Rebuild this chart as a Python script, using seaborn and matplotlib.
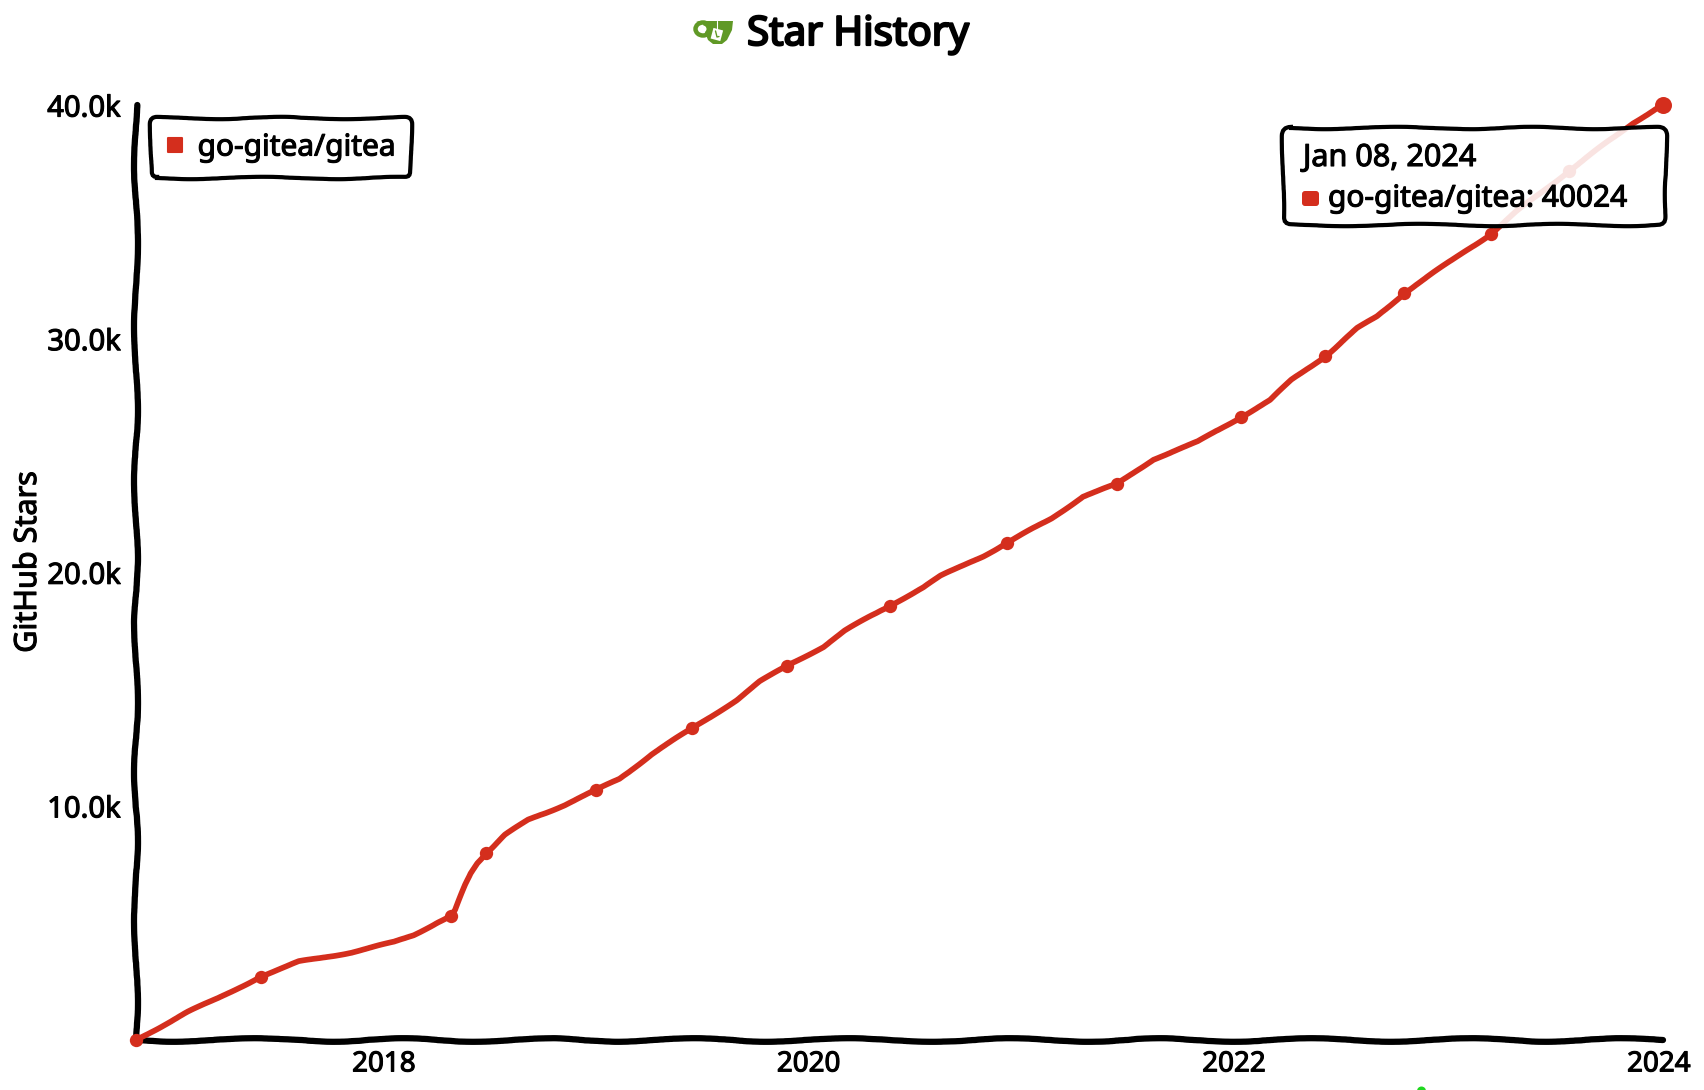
import matplotlib
matplotlib.use("Agg")
import matplotlib.pyplot as plt
import matplotlib.dates as mdates
import matplotlib.patheffects as pe
import seaborn as sns
import pandas as pd
from matplotlib.lines import Line2D
from matplotlib.markers import MarkerStyle
from matplotlib.patches import FancyBboxPatch, Polygon, Circle, Ellipse, Rectangle
from matplotlib.transforms import Affine2D
from matplotlib.ticker import FixedLocator, FuncFormatter

REPO = "go-gitea/gitea"
TITLE = "Star History"
YLABEL = "GitHub Stars"
TOOLTIP_DATE = "Jan 08, 2024"
TOOLTIP_VALUE = "go-gitea/gitea: 40024"
RED = "#d42e1d"
GREEN = "#609926"

dates = ["2016-11-01", "2017-01-30", "2017-03-22", "2017-06-03", "2017-08-08", "2017-11-07",
         "2018-01-19", "2018-02-21", "2018-04-02", "2018-04-27", "2018-05-04", "2018-05-12",
         "2018-05-21", "2018-05-30", "2018-06-10", "2018-06-25", "2018-07-28", "2018-09-06",
         "2018-11-07", "2019-01-01", "2019-02-10",
         "2019-04-06", "2019-06-15", "2019-08-30", "2019-10-09", "2019-11-25", "2020-01-26",
         "2020-03-03", "2020-05-19", "2020-07-16", "2020-08-15", "2020-10-27", "2020-12-06",
         "2021-02-21", "2021-04-16", "2021-06-14", "2021-08-15", "2021-10-31", "2022-01-12",
         "2022-03-04", "2022-04-10", "2022-06-07", "2022-08-01", "2022-09-03", "2022-10-20",
         "2022-12-10", "2023-03-18", "2023-05-01", "2023-07-31", "2023-11-17", "2024-01-08"]
stars = [0, 1211, 1785, 2710, 3352, 3754,
         4195, 4495, 5021, 5308, 5565, 6066,
         6635, 7136, 7577, 7992, 8776, 9418,
         10060, 10702, 11173,
         12243, 13343, 14555, 15338, 16023, 16836,
         17521, 18592, 19379, 19863, 20719, 21262,
         22333, 23258, 23801, 24859, 25612, 26656,
         27397, 28253, 29281, 30466, 30963, 31964,
         32847, 34503, 35458, 37213, 39255, 40024]
marked_dates = ["2016-11-01", "2017-06-03", "2018-04-27", "2018-06-25", "2019-01-01",
                "2019-06-15", "2019-11-25", "2020-05-19", "2020-12-06", "2021-06-14",
                "2022-01-12", "2022-06-07", "2022-10-20", "2023-03-18", "2023-07-31"]
last_date = "2024-01-08"
y_ticks = [10000, 20000, 30000, 40000]
y_top = 40024

W, H = 1704, 1090
sns.set_theme(style="white")
plt.rcParams["font.family"] = ["Noto Sans", "DejaVu Sans"]


def thick(width=0.8):
    """Heavier strokes, closer to the hand-drawn lettering."""
    return [pe.Stroke(linewidth=width, foreground="black"), pe.Normal()]


df = pd.DataFrame({"date": pd.to_datetime(dates), "stars": stars})
df_marked = df[df["date"].isin(pd.to_datetime(marked_dates))]
df_last = df[df["date"] == pd.Timestamp(last_date)]

fig = plt.figure(figsize=(W / 100, H / 100), dpi=100, facecolor="white")
ax = fig.add_axes([136 / W, 1 - 1040 / H, (1663 - 136) / W, (1040 - 105) / H])
ax.set_facecolor("white")

sns.lineplot(data=df, x="date", y="stars", ax=ax, color=RED, linewidth=4.1,
             estimator=None, errorbar=None, zorder=4, clip_on=False)
ax.lines[0].set_sketch_params(scale=0.6, length=120, randomness=3)
ax.lines[0].set_solid_capstyle("round")
ax.lines[0].set_solid_joinstyle("round")
sns.scatterplot(data=df_marked, x="date", y="stars", ax=ax, color=RED, s=92,
                linewidth=0, zorder=4, clip_on=False)
sns.scatterplot(data=df_last, x="date", y="stars", ax=ax, color=RED, s=150,
                linewidth=0, zorder=4, clip_on=False)

ax.set_xlim(pd.Timestamp(dates[0]), pd.Timestamp(dates[-1]))
ax.set_ylim(0, y_top)
ax.xaxis.set_major_locator(mdates.YearLocator(2))
ax.xaxis.set_major_formatter(mdates.DateFormatter("%Y"))
ax.yaxis.set_major_locator(FixedLocator(y_ticks))
ax.yaxis.set_major_formatter(FuncFormatter(lambda v, _: f"{v / 1000:.1f}k"))
ax.tick_params(axis="x", length=0, pad=7.5, labelsize=20, labelcolor="black")
ax.tick_params(axis="y", length=0, pad=11, labelsize=21, labelcolor="black")
for lab in ax.get_xticklabels() + ax.get_yticklabels():
    lab.set_path_effects(thick())
ax.set_xlabel("")
ax.set_ylabel(YLABEL, fontsize=22, color="black", path_effects=thick())
ax.yaxis.set_label_coords((43 - 136) / 1527, (1040 - 562) / 935)

sns.despine(ax=ax)
for side, s_scale, s_len in (("left", 2.0, 190), ("bottom", 1.8, 190)):
    sp = ax.spines[side]
    sp.set_color("black")
    sp.set_linewidth(4.5)
    sp.set_capstyle("round")
    sp.set_sketch_params(scale=s_scale, length=s_len, randomness=3)

handle = Line2D([], [], linestyle="none", color=RED, ms=10, mew=1.5,
                marker=MarkerStyle("s", joinstyle="round"), label=REPO)
leg = ax.legend(handles=[handle], loc="upper left", bbox_to_anchor=(151, H - 118),
                bbox_transform=Affine2D(), borderaxespad=0, fontsize=21.5, frameon=True,
                fancybox=True, framealpha=1, edgecolor="black", borderpad=0.52,
                handlelength=0.57, handletextpad=0.47, labelspacing=0)
frame = leg.get_frame()
frame.set_linewidth(3.0)
frame.set_sketch_params(scale=1.2, length=170, randomness=3)
leg.set_zorder(6)
for t in leg.get_texts():
    t.set_path_effects(thick())
    t.set_color("black")

# pixel coordinates, origin top-left
px = Affine2D().scale(1, -1).translate(0, H)

tip = FancyBboxPatch((1283, 128), 383, 97, boxstyle="round,pad=0,rounding_size=8",
                     facecolor=(1, 1, 1, 0.87), edgecolor="black", linewidth=3.0, transform=px, zorder=5)
tip.set_sketch_params(scale=1.2, length=170, randomness=3)
fig.add_artist(tip)
fig.text(1303 / W, 1 - 158 / H, TOOLTIP_DATE, fontsize=22, color="black",
         va="center", ha="left", zorder=6, path_effects=thick())
fig.text(1328 / W, 1 - 199 / H, TOOLTIP_VALUE, fontsize=21.5, color="black",
         va="center", ha="left", zorder=6, path_effects=thick())
swatch = FancyBboxPatch((1304, 193), 13, 11, boxstyle="round,pad=2,rounding_size=3",
                        facecolor=RED, edgecolor="none", transform=px, zorder=6)
fig.add_artist(swatch)

fig.text(747 / W, 1 - 35 / H, TITLE, fontsize=29, color="black",
         va="center", ha="left", zorder=6, path_effects=thick(1.6))

# mug icon beside the title
fig.add_artist(Ellipse((703, 29), 15, 13, facecolor="none", edgecolor=GREEN, linewidth=3.2,
                       transform=px, zorder=6))
fig.add_artist(Polygon([(696, 21), (733, 21), (732, 30), (727, 40), (722, 44), (713, 44),
                        (708, 40), (704, 30), (703, 23)],
                       closed=True, facecolor=GREEN, edgecolor="none", transform=px, zorder=7))
fig.add_artist(Ellipse((703, 29), 7, 7, facecolor="white", edgecolor="none", transform=px, zorder=8))
fig.add_artist(Line2D([717, 717], [21, 30], color="white", linewidth=0.8, transform=px, zorder=8))
tag = Rectangle((712, 29), 10, 11, facecolor="white", edgecolor="none",
                transform=Affine2D().rotate_deg_around(717, 34, 15) + px, zorder=8)
fig.add_artist(tag)
fig.add_artist(Line2D([715.5, 717, 719], [31, 37, 36.5], color=GREEN, linewidth=1.0,
                      transform=px, zorder=9))

# small green mark cut by the lower edge
fig.add_artist(Circle((1421.5, 1091), 4.5, facecolor="#1fd81f", edgecolor="none", transform=px, zorder=6))

fig.savefig("out.png", dpi=100, facecolor="white")
